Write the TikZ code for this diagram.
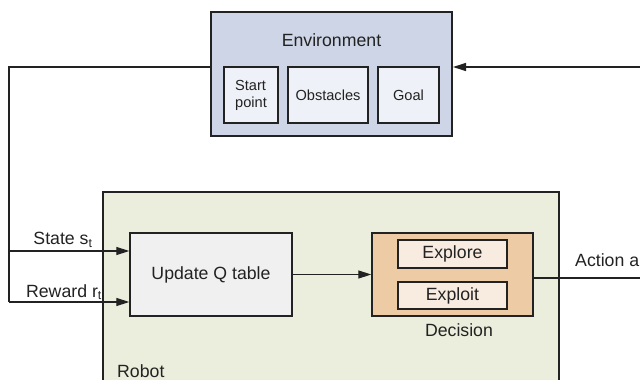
\documentclass[tikz,border=0pt]{standalone}
\usepackage{fontspec}
\setmainfont{Liberation Sans}
\usetikzlibrary{arrows.meta,calc}
\definecolor{envfill}{HTML}{CDD5E6}
\definecolor{itemfill}{HTML}{EEF1F7}
\definecolor{robotfill}{HTML}{EBEEDC}
\definecolor{updfill}{HTML}{F0F0F0}
\definecolor{decfill}{HTML}{EDCBA5}
\definecolor{optfill}{HTML}{F8ECE1}
\definecolor{ink}{HTML}{222222}
\begin{document}
\begin{tikzpicture}[x=1pt,y=-1pt,
  every node/.style={font=\fontsize{17.7}{20}\selectfont, text=ink, inner sep=0pt},
  box/.style={draw=ink, rectangle, line width=1.4pt},
  small/.style={font=\fontsize{14.6}{17}\selectfont, align=left},
  link/.style={draw=ink, line width=1.2pt},
  tip/.style={-{Triangle[length=13pt,width=8pt]}}]
\useasboundingbox (0,0) rectangle (640,380);
\clip (0,0) rectangle (640,380);

% environment block with its three parts
\node[box, fill=envfill, line width=2pt, minimum width=241pt, minimum height=124pt] (env) at (331.5,74) {};
\node (envlabel) at (331.5,40) {Environment};
\node[box, fill=itemfill, small, minimum width=54pt, minimum height=56pt] (start) at (251,95) {Start\\point};
\node[box, fill=itemfill, small, minimum width=80pt, minimum height=56pt] (obst) at (328,95) {Obstacles};
\node[box, fill=itemfill, small, minimum width=61pt, minimum height=56pt] (goal) at (408.5,95) {Goal};

% robot block, running past the lower edge
\node[box, fill=robotfill, minimum width=456pt, minimum height=216pt] (robot) at (331,300) {};
\node[anchor=west] (robotlabel) at (117,371) {Robot};

\node[box, fill=updfill, minimum width=162pt, minimum height=83pt] (update) at (211,274.5) {Update Q table};
\node[box, fill=decfill, minimum width=161pt, minimum height=83pt] (decision) at (452.5,274.5) {};
\node[box, fill=optfill, minimum width=109pt, minimum height=28pt] (explore) at (452.5,254) {Explore};
\node[box, fill=optfill, minimum width=109pt, minimum height=27pt] (exploit) at (452.5,295.5) {Exploit};
\node (declabel) at (459,330) {Decision};

% feedback loop coordinates
\coordinate (ltop) at (9,67);
\coordinate (lstate) at (9,251);
\coordinate (lbottom) at (9,302);
\coordinate (aout) at (645,278);
\coordinate (ain) at (645,67);

\draw[link] (env.west |- ltop) -- (ltop) -- (lbottom);
\draw[link, tip] (lstate) -- (update.west |- lstate);
\draw[link, tip] (lbottom) -- (update.west |- lbottom);
\draw[link, tip] (update.east) -- (decision.west);
\draw[link] (decision.east |- aout) -- (aout);
\draw[link, tip] (ain) -- (env.east |- ain);

\node (statelabel) at (63,240) {State s\textsubscript{t}};
\node (rewardlabel) at (64,292) {Reward r\textsubscript{t}};
\node[anchor=west] (actionlabel) at (575,260) {Action a};
\end{tikzpicture}
\end{document}
